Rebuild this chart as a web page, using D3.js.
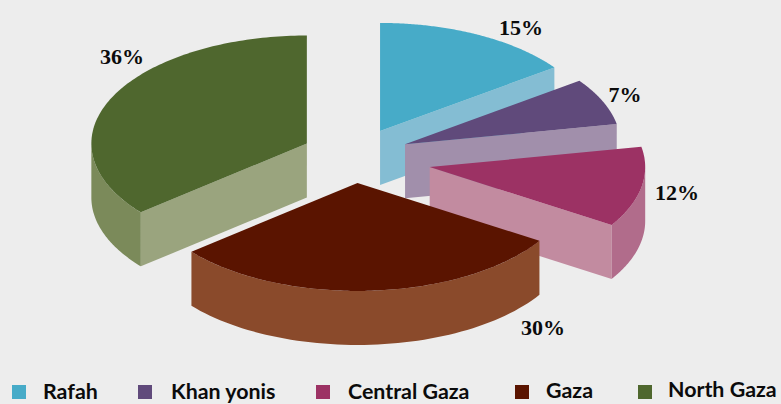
<!DOCTYPE html>
<html><head><meta charset="utf-8">
<script src="https://cdn.jsdelivr.net/npm/d3@7"></script>
<style>html,body{margin:0;padding:0;background:#ededed}svg{display:block}
text{font-family:Lato,"Open Sans",sans-serif;font-weight:700;fill:#0b0b0b}
text.pct{font-family:"Liberation Serif",serif}</style>
</head><body><svg id="c" width="781" height="404"></svg>
<script>
const categories = ["Rafah","Khan yonis","Central Gaza","Gaza","North Gaza"];
const values = [15,7,12,30,36];
const topColors = ["#47abc8","#604a7b","#9c3264","#5a1400","#4f672e"];
const faceColors = ["#84bdd3","#a18fab","#c28ba0","#8a4a2b","#9aa47e"];
const wallColors = ["#84bdd3","#a18fab","#b16c8b","#8a4a2b","#7b8a5a"];
const explode = [0.25,0.25,0.35,0.25,0.25];

// layout
const W=781,H=404,cx=355.6,cy=155,rx=215.5,ry=108,depth=54;
const nudgeX=[0,0,0,-1.5,0];
const nudgeY=[0,0,5,1,0];
const labelPos=[[521,35],[625,102],[677,200],[543,335],[122,64]];
const legendSwatchX=[12,138,316,515,638];
const legendTextX=[43,171,348,546,668];
const legendBase=[399,399,399,398,397];

const svg=d3.select("#c");
svg.append("rect").attr("width",W).attr("height",H).attr("fill","#ededed");

const pie=d3.pie().sort(null).value(d=>d)(values);
const sx=d3.scaleLinear().domain([-1,1]).range([-rx,rx]);
const sy=d3.scaleLinear().domain([-1,1]).range([-ry,ry]);
const line=d3.line().x(d=>d[0]).y(d=>d[1]);

pie.forEach((p,i)=>{
  const mid=(p.startAngle+p.endAngle)/2, e=explode[i];
  const ax=cx+sx(Math.sin(mid)*e)+nudgeX[i], ay=cy+sy(-Math.cos(mid)*e)+nudgeY[i];
  const pt=(a,z=0)=>[ax+sx(Math.sin(a)),ay+sy(-Math.cos(a))+z];
  const g=svg.append("g").attr("class","slice");
  const face=a=>g.append("path").attr("d",line([[ax,ay],pt(a),pt(a,depth),[ax,ay+depth]])+"Z").attr("fill",faceColors[i]);
  if(p.startAngle>Math.PI) face(p.startAngle);
  if(p.endAngle<Math.PI) face(p.endAngle);
  const a0=Math.max(p.startAngle,Math.PI/2), a1=Math.min(p.endAngle,3*Math.PI/2);
  if(a1>a0){
    const as=d3.range(0,61).map(k=>a0+(a1-a0)*k/60);
    const pts=as.map(a=>pt(a)).concat(as.slice().reverse().map(a=>pt(a,depth)));
    g.append("path").attr("d",line(pts)+"Z").attr("fill",wallColors[i]);
  }
  const as=d3.range(0,121).map(k=>p.startAngle+(p.endAngle-p.startAngle)*k/120);
  g.append("path").attr("d",line([[ax,ay]].concat(as.map(a=>pt(a))))+"Z").attr("fill",topColors[i]);
  svg.append("text").attr("class","pct").attr("x",labelPos[i][0]).attr("y",labelPos[i][1]).attr("text-anchor","middle")
    .attr("font-size",22).text(values[i]+"%");
});

const lg=svg.append("g").attr("class","legend");
categories.forEach((c,i)=>{
  lg.append("rect").attr("x",legendSwatchX[i]).attr("y",385).attr("width",14).attr("height",14).attr("fill",topColors[i]);
  lg.append("text").attr("x",legendTextX[i]).attr("y",legendBase[i]).attr("font-size",21.4).text(c);
});
</script></body></html>
